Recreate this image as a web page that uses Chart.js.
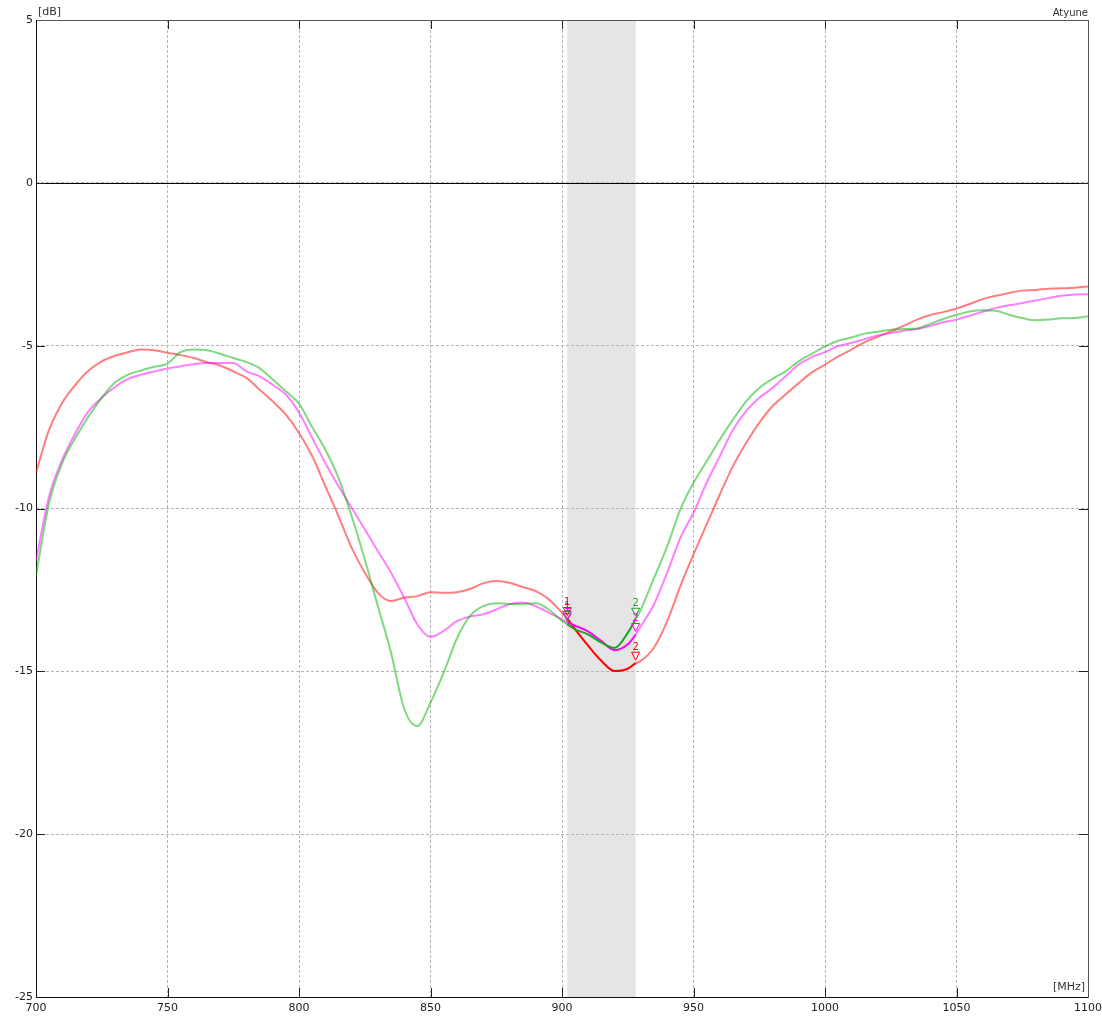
<!DOCTYPE html>
<html>
<head>
<meta charset="utf-8">
<script src="https://cdn.jsdelivr.net/npm/chart.js@4/dist/chart.umd.min.js"></script>
<style>
  html, body { margin: 0; padding: 0; background: #fff; }
  #wrap { width: 1102px; height: 1018px; }
</style>
</head>
<body>
<div id="wrap"><canvas id="c" width="1102" height="1018"></canvas></div>
<script>
// Frequency points in MHz (band edges 902 / 928 included)
const freqs = [
  700,705,710,715,720,725,730,735,740,745,750,755,760,765,770,775,780,785,790,795,
  800,805,810,815,820,825,830,835,840,845,850,855,860,865,870,875,880,885,890,895,
  900,902,905,910,915,920,925,928,
  930,935,940,945,950,955,960,965,970,975,980,985,990,995,
  1000,1005,1010,1015,1020,1025,1030,1035,1040,1045,1050,1055,1060,1065,1070,1075,1080,1085,1090,1095,1100
];

// Return loss traces in dB
const traceRed = [
  -8.9,-7.58,-6.75,-6.2,-5.76,-5.48,-5.31,-5.2,-5.12,-5.14,-5.22,-5.29,-5.38,-5.51,-5.61,-5.79,-5.99,-6.35,-6.71,-7.12,
  -7.68,-8.39,-9.31,-10.23,-11.2,-11.97,-12.59,-12.84,-12.74,-12.69,-12.57,-12.59,-12.57,-12.47,-12.3,-12.23,-12.28,-12.41,-12.54,-12.79,
  -13.2,-13.38,-13.71,-14.22,-14.68,-14.99,-14.92,-14.75,
  -14.68,-14.27,-13.46,-12.38,-11.41,-10.49,-9.57,-8.7,-7.99,-7.37,-6.86,-6.5,-6.15,-5.82,
  -5.58,-5.33,-5.12,-4.9,-4.73,-4.56,-4.39,-4.2,-4.06,-3.97,-3.86,-3.72,-3.57,-3.47,-3.38,-3.31,-3.29,-3.25,-3.24,-3.22,-3.18
];
const traceMagenta = [
  -11.6,-9.62,-8.5,-7.68,-7.01,-6.6,-6.27,-6.02,-5.89,-5.79,-5.7,-5.63,-5.57,-5.53,-5.53,-5.53,-5.79,-5.94,-6.2,-6.5,
  -7.05,-7.83,-8.6,-9.31,-9.98,-10.64,-11.31,-11.97,-12.74,-13.56,-13.94,-13.76,-13.46,-13.32,-13.25,-13.1,-12.94,-12.89,-13.0,-13.2,
  -13.4,-13.5,-13.6,-13.78,-14.07,-14.35,-14.17,-13.87,
  -13.61,-12.94,-11.97,-10.9,-10.13,-9.21,-8.4,-7.58,-7.01,-6.6,-6.3,-5.94,-5.58,-5.35,
  -5.2,-5.01,-4.92,-4.8,-4.69,-4.61,-4.54,-4.49,-4.39,-4.28,-4.2,-4.08,-3.96,-3.84,-3.76,-3.69,-3.61,-3.54,-3.47,-3.43,-3.42
];
const traceGreen = [
  -12.05,-9.83,-8.6,-7.83,-7.17,-6.6,-6.13,-5.89,-5.76,-5.65,-5.55,-5.2,-5.12,-5.14,-5.25,-5.38,-5.5,-5.69,-6.04,-6.4,
  -6.78,-7.5,-8.19,-9.06,-10.23,-11.56,-13.0,-14.43,-16.15,-16.68,-15.96,-15.04,-14.0,-13.3,-13.0,-12.91,-12.93,-12.93,-12.91,-13.1,
  -13.45,-13.56,-13.71,-13.87,-14.12,-14.28,-13.82,-13.4,
  -13.1,-12.13,-11.16,-10.03,-9.21,-8.55,-7.88,-7.27,-6.71,-6.3,-6.02,-5.79,-5.48,-5.25,
  -5.02,-4.85,-4.75,-4.63,-4.57,-4.51,-4.49,-4.47,-4.33,-4.18,-4.05,-3.95,-3.91,-3.93,-4.05,-4.15,-4.22,-4.2,-4.16,-4.15,-4.1
];

// Highlighted band and its markers
const bandStart = 902;
const bandEnd = 928;
const markerFreqs = [902, 928];
const markerLabels = ['1', '2'];

const xTicks = [700, 750, 800, 850, 900, 950, 1000, 1050, 1100];
const yTicks = [5, 0, -5, -10, -15, -20, -25];

const FONT = '"DejaVu Sans", Verdana, sans-serif';

const series = [
  { values: traceGreen,   light: 'rgba(0,180,0,0.5)',   dark: '#1aa31a' },
  { values: traceMagenta, light: 'rgba(255,0,255,0.5)', dark: '#ff00ff' },
  { values: traceRed,     light: 'rgba(255,0,0,0.5)',   dark: '#ff0000' }
];

function inBand(ctx) {
  return ctx.p0.parsed.x >= bandStart && ctx.p1.parsed.x <= bandEnd;
}

const datasets = series.map(s => ({
  data: freqs.map((f, i) => ({ x: f, y: s.values[i] })),
  borderColor: s.light,
  borderWidth: 2,
  pointRadius: 0,
  fill: false,
  cubicInterpolationMode: 'monotone',
  segment: { borderColor: ctx => inBand(ctx) ? s.dark : s.light },
  markerColor: s.dark
}));

const framePlugin = {
  id: 'frame',
  beforeDraw(chart) {
    const { ctx, chartArea: a, scales: { x } } = chart;
    ctx.save();
    ctx.fillStyle = '#ffffff';
    ctx.fillRect(0, 0, chart.width, chart.height);
    const x0 = x.getPixelForValue(bandStart);
    const x1 = x.getPixelForValue(bandEnd);
    ctx.fillStyle = '#e5e5e5';
    ctx.fillRect(x0, a.top, x1 - x0, a.bottom - a.top);
    ctx.restore();
  },
  beforeDatasetsDraw(chart) {
    const { ctx, chartArea: a, scales: { x, y } } = chart;
    ctx.save();
    // zero reference line
    const y0 = Math.round(y.getPixelForValue(0)) + 0.5;
    ctx.strokeStyle = '#000';
    ctx.lineWidth = 1;
    ctx.beginPath();
    ctx.moveTo(a.left, y0);
    ctx.lineTo(a.right, y0);
    ctx.stroke();
    // inner tick marks on all four sides
    const L = 9;
    ctx.strokeStyle = '#222';
    ctx.beginPath();
    yTicks.forEach(v => {
      const py = Math.round(y.getPixelForValue(v)) + 0.5;
      ctx.moveTo(a.left, py); ctx.lineTo(a.left + L, py);
      ctx.moveTo(a.right - L, py); ctx.lineTo(a.right, py);
    });
    xTicks.forEach(v => {
      const px = Math.round(x.getPixelForValue(v)) + 0.5;
      ctx.moveTo(px, a.top); ctx.lineTo(px, a.top + L);
      ctx.moveTo(px, a.bottom - L); ctx.lineTo(px, a.bottom);
    });
    ctx.stroke();
    // plot frame
    ctx.strokeStyle = '#555';
    ctx.strokeRect(Math.round(a.left) + 0.5, Math.round(a.top) + 0.5,
      Math.round(a.right - a.left), Math.round(a.bottom - a.top));
    ctx.strokeStyle = '#111';
    ctx.beginPath();
    ctx.moveTo(Math.round(a.left) + 0.5, a.top);
    ctx.lineTo(Math.round(a.left) + 0.5, a.bottom + 0.5);
    ctx.lineTo(a.right, Math.round(a.bottom) + 0.5);
    ctx.stroke();
    ctx.restore();
  },
  afterDatasetsDraw(chart) {
    const { ctx, scales: { x, y } } = chart;
    ctx.save();
    ctx.lineWidth = 1;
    ctx.font = '10px ' + FONT;
    ctx.textAlign = 'center';
    ctx.textBaseline = 'bottom';
    chart.data.datasets.forEach(ds => {
      markerFreqs.forEach((f, k) => {
        const i = freqs.indexOf(f);
        const px = x.getPixelForValue(f);
        const py = y.getPixelForValue(ds.data[i].y) - 3;
        ctx.strokeStyle = ds.markerColor;
        ctx.fillStyle = ds.markerColor;
        ctx.beginPath();
        ctx.moveTo(px, py);
        ctx.lineTo(px - 4, py - 8);
        ctx.lineTo(px + 4, py - 8);
        ctx.closePath();
        ctx.stroke();
        ctx.fillText(markerLabels[k], px, py - 8);
      });
    });
    ctx.restore();
  },
  afterDraw(chart) {
    const { ctx, chartArea: a } = chart;
    ctx.save();
    ctx.fillStyle = '#333';
    ctx.font = '11px ' + FONT;
    ctx.textBaseline = 'middle';
    ctx.textAlign = 'left';
    ctx.fillText('[dB]', a.left + 2, 12);
    ctx.textAlign = 'right';
    ctx.fillText('[MHz]', a.right - 3, a.bottom - 10);
    ctx.font = '10px ' + FONT;
    ctx.fillText('Atyune', a.right, 13);
    ctx.restore();
  }
};

new Chart(document.getElementById('c'), {
  type: 'line',
  data: { datasets },
  plugins: [framePlugin],
  options: {
    responsive: false,
    animation: false,
    events: [],
    layout: { padding: { top: 20, right: 14, left: 0, bottom: 0 } },
    plugins: { legend: { display: false }, tooltip: { enabled: false }, title: { display: false } },
    scales: {
      x: {
        type: 'linear',
        min: 700, max: 1100,
        afterBuildTicks: s => { s.ticks = xTicks.map(v => ({ value: v })); },
        ticks: { color: '#222', font: { family: FONT, size: 11 }, padding: 5, maxRotation: 0, autoSkip: false,
                 callback: v => String(v) },
        grid: { color: '#b4b4b4', drawTicks: false, lineWidth: 1 },
        border: { display: false, dash: [3, 2] },
        afterFit: s => { s.height = 21; s.paddingLeft = 0; s.paddingRight = 0; }
      },
      y: {
        type: 'linear',
        min: -25, max: 5,
        afterBuildTicks: s => { s.ticks = yTicks.map(v => ({ value: v })); },
        ticks: { color: '#222', font: { family: FONT, size: 11 }, padding: 3, autoSkip: false,
                 callback: v => String(v) },
        grid: { color: '#b4b4b4', drawTicks: false, lineWidth: 1 },
        border: { display: false, dash: [3, 2] },
        afterFit: s => { s.width = 36; s.paddingTop = 0; s.paddingBottom = 0; }
      }
    }
  }
});
</script>
</body>
</html>
